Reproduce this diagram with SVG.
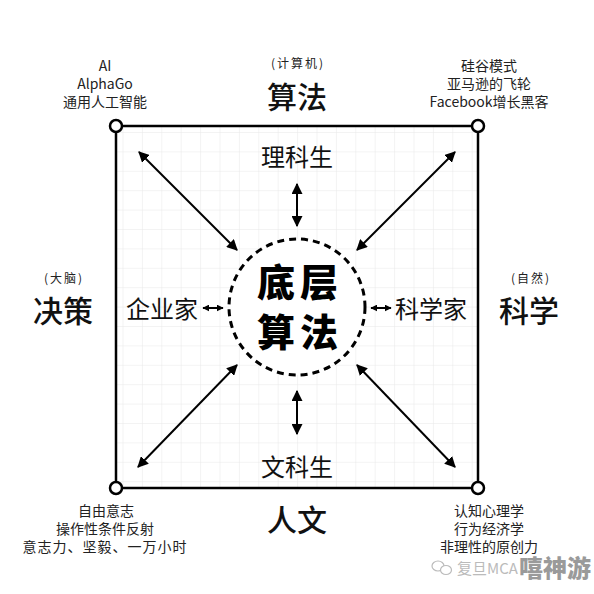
<svg xmlns="http://www.w3.org/2000/svg" width="594" height="594" viewBox="0 0 594 594">
<style>
.t{font-family:"Noto Sans CJK SC","Noto Sans",sans-serif;fill:#222;text-anchor:middle}
.s{font-size:14px}
.sm{font-size:12px;letter-spacing:2px}
.big{font-size:30px;font-weight:500;fill:#111}
.mid{font-size:24px;fill:#111}
.core{font-size:38px;font-weight:900;fill:#000;letter-spacing:5px}
.ar{stroke:#000;stroke-width:2;fill:none}
.wm{font-family:"Noto Sans CJK SC",sans-serif;fill:#bbb}
</style>
<defs>
<marker id="ah" viewBox="0 0 10 10" refX="9" refY="5" markerWidth="5.5" markerHeight="5.5" orient="auto-start-reverse" markerUnits="strokeWidth">
<path d="M0,0 L10,5 L0,10 z" fill="#000"/>
</marker>
<marker id="ahs" viewBox="0 0 10 10" refX="9" refY="5" markerWidth="3.5" markerHeight="3.5" orient="auto-start-reverse" markerUnits="strokeWidth">
<path d="M0,0 L10,5 L0,10 z" fill="#000"/>
</marker>
<pattern id="grid" x="122.5" y="132" width="19.4" height="19.4" patternUnits="userSpaceOnUse">
<path d="M0,0 H19.4 M0,0 V19.4" stroke="#e8e8e8" stroke-width="1" fill="none"/>
</pattern>
</defs>
<rect width="594" height="594" fill="#fff"/>
<g id="frame">
<rect x="117" y="127" width="360" height="360" fill="url(#grid)"/>
<rect x="116" y="126" width="362" height="362" fill="none" stroke="#000" stroke-width="2.5"/>
<circle cx="116" cy="126" r="6" fill="#fff" stroke="#000" stroke-width="2.5"/>
<circle cx="478" cy="126" r="6" fill="#fff" stroke="#000" stroke-width="2.5"/>
<circle cx="116" cy="488" r="6" fill="#fff" stroke="#000" stroke-width="2.5"/>
<circle cx="478" cy="488" r="6" fill="#fff" stroke="#000" stroke-width="2.5"/>
</g>
<g id="connectors">
<line class="ar" x1="139" y1="152" x2="237" y2="250" marker-start="url(#ah)" marker-end="url(#ah)"/>
<line class="ar" x1="455" y1="152" x2="357" y2="250" marker-start="url(#ah)" marker-end="url(#ah)"/>
<line class="ar" x1="138" y1="467" x2="237" y2="365" marker-start="url(#ah)" marker-end="url(#ah)"/>
<line class="ar" x1="455" y1="467" x2="357" y2="365" marker-start="url(#ah)" marker-end="url(#ah)"/>
<line class="ar" x1="297" y1="184" x2="297" y2="226" marker-start="url(#ah)" marker-end="url(#ah)"/>
<line class="ar" x1="297" y1="391" x2="297" y2="434" marker-start="url(#ah)" marker-end="url(#ah)"/>
<line class="ar" x1="203" y1="308" x2="223" y2="308" marker-start="url(#ahs)" marker-end="url(#ahs)"/>
<line class="ar" x1="371" y1="308" x2="391" y2="308" marker-start="url(#ahs)" marker-end="url(#ahs)"/>
</g>
<g id="core">
<circle cx="297" cy="307" r="68" fill="#fff" stroke="#000" stroke-width="3" stroke-dasharray="7 5"/>
<text class="t core" x="300" y="296">底层</text>
<text class="t core" x="300" y="346">算法</text>
</g>
<g id="top">
<text class="t sm" x="298" y="68">(计算机)</text>
<text class="t big" x="297" y="108">算法</text>
</g>
<g id="left">
<text class="t sm" x="64" y="283">(大脑)</text>
<text class="t big" x="63" y="322">决策</text>
</g>
<g id="right">
<text class="t sm" x="531" y="283">(自然)</text>
<text class="t big" x="529" y="322">科学</text>
</g>
<g id="bottom">
<text class="t big" x="297" y="531">人文</text>
</g>
<g id="lkes">
<text class="t mid" x="297" y="166">理科生</text>
</g>
<g id="wkes">
<text class="t mid" x="297" y="476">文科生</text>
</g>
<g id="qyj">
<text class="t mid" x="162" y="318">企业家</text>
</g>
<g id="kxj">
<text class="t mid" x="431" y="318">科学家</text>
</g>
<g id="tl">
<text class="t s" x="105" y="71">AI</text>
<text class="t s" x="105" y="89">AlphaGo</text>
<text class="t s" x="105" y="107">通用人工智能</text>
</g>
<g id="tr">
<text class="t s" x="489" y="71">硅谷模式</text>
<text class="t s" x="489" y="89">亚马逊的飞轮</text>
<text class="t s" x="489" y="107">Facebook增长黑客</text>
</g>
<g id="bl">
<text class="t s" x="106" y="516">自由意志</text>
<text class="t s" x="105" y="534">操作性条件反射</text>
<text class="t s" x="105" y="552" style="letter-spacing:1px">意志力、坚毅、一万小时</text>
</g>
<g id="br">
<text class="t s" x="489" y="516">认知心理学</text>
<text class="t s" x="489" y="534">行为经济学</text>
<text class="t s" x="489" y="552">非理性的原创力</text>
</g>
<g id="watermark">
<ellipse cx="438" cy="566" rx="6" ry="5" fill="none" stroke="#bbb" stroke-width="1.2"/>
<ellipse cx="446" cy="570" rx="5.5" ry="4.5" fill="#fff" stroke="#bbb" stroke-width="1.2"/>
<text class="wm" x="457" y="574" font-size="15">复旦MCA</text>
<text class="wm" x="519" y="577" font-size="24" font-weight="900" style="fill:#9a9a9a">嘻神游</text>
</g>
</svg>
